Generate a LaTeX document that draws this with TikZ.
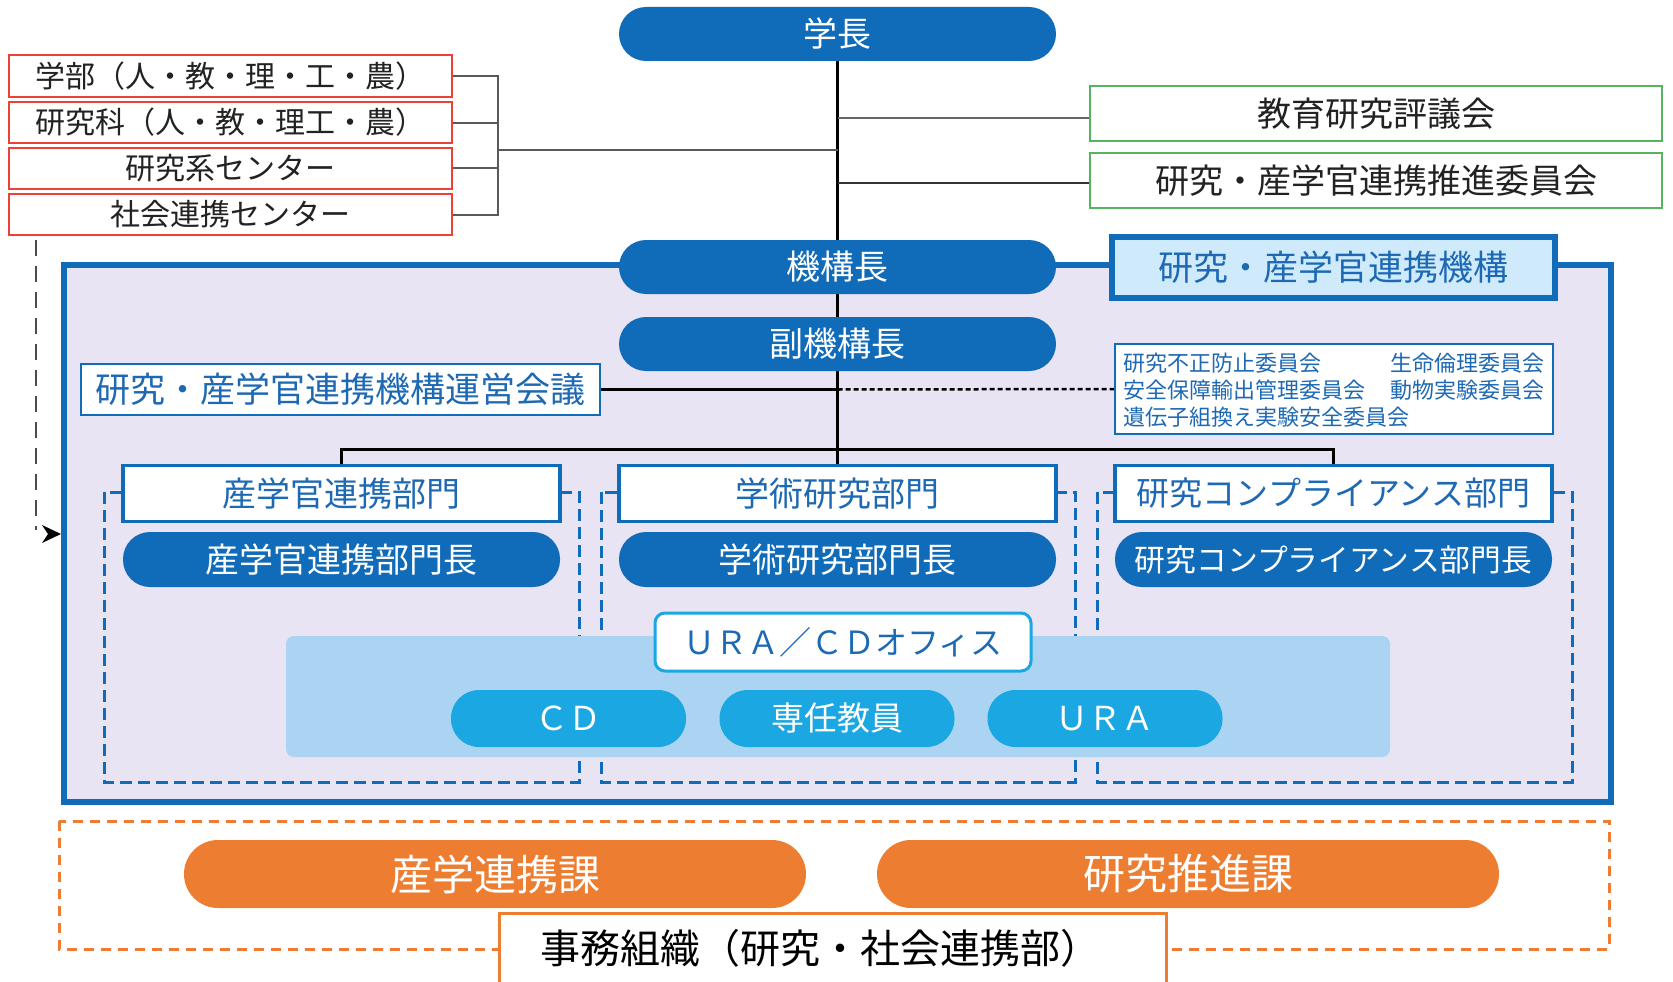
\documentclass[tikz,border=0pt]{standalone}
\usepackage{fontspec}
\setmainfont{Noto Sans CJK JP}
\usetikzlibrary{arrows.meta}
\definecolor{mblue}{RGB}{16,107,185}
\definecolor{lav}{RGB}{233,228,243}
\definecolor{lblue}{RGB}{170,212,242}
\definecolor{cyanb}{RGB}{27,167,226}
\definecolor{boxblue}{RGB}{206,234,251}
\definecolor{tblue}{RGB}{30,105,180}
\definecolor{redb}{RGB}{235,65,55}
\definecolor{greenb}{RGB}{85,180,95}
\definecolor{orng}{RGB}{237,125,49}
\definecolor{txt}{RGB}{34,34,34}
\newcommand\myfs[1]{\fontsize{#1}{#1}\selectfont}
\pgfdeclarelayer{bgzero}
\pgfdeclarelayer{bgone}
\pgfsetlayers{bgzero,bgone,main}
\tikzset{
  pill/.style={fill=mblue, text=white, rounded corners=27pt, minimum width=437pt, minimum height=54pt, inner sep=0pt, font=\myfs{34}},
  cpill/.style={fill=cyanb, text=white, rounded corners=28pt, minimum width=235pt, minimum height=57pt, inner sep=0pt, font=\myfs{33}},
  opill/.style={fill=orng, text=white, rounded corners=34pt, minimum width=622pt, minimum height=68pt, inner sep=0pt, font=\myfs{42}},
  redbox/.style={draw=redb, line width=2pt, fill=white, text=txt, minimum width=443pt, minimum height=41pt, inner sep=0pt, font=\myfs{30}},
  greenbox/.style={draw=greenb, line width=2pt, fill=white, text=txt, minimum width=572pt, minimum height=55pt, inner sep=0pt, font=\myfs{34}},
  deptbox/.style={draw=mblue, line width=3.5pt, fill=white, text=tblue, minimum width=437pt, minimum height=56pt, inner sep=0pt, font=\myfs{34}},
  thinbox/.style={draw=mblue, line width=1.8pt, fill=white, text=tblue, inner sep=0pt},
  comtext/.style={text=tblue, font=\myfs{22}, inner sep=0pt, anchor=west},
  conn/.style={line width=3.5pt, black},
  thinconn/.style={line width=2pt, black!80},
  brk/.style={line width=2pt, black!65},
  bluedash/.style={draw=mblue, line width=3pt, dash pattern=on 12pt off 6pt},
}
\begin{document}
\begin{tikzpicture}[x=1pt,y=-1pt]
\useasboundingbox (0,0) rectangle (1673,982);
\clip (0,0) rectangle (1673,982);
% ---- nodes ----
\node[pill] (gak) at (837.5,34) {学長};
\node[pill] (kik) at (837.5,267) {機構長};
\node[pill] (fuk) at (837.5,344) {副機構長};
\node[redbox] (r1) at (230.5,76) {学部（人・教・理・工・農）};
\node[redbox] (r2) at (230.5,122.5) {研究科（人・教・理工・農）};
\node[redbox] (r3) at (230.5,168) {研究系センター};
\node[redbox] (r4) at (230.5,214.5) {社会連携センター};
\node[greenbox] (g1) at (1376,113.5) {教育研究評議会};
\node[greenbox] (g2) at (1376,180.5) {研究・産学官連携推進委員会};
\node[draw=mblue, line width=6pt, fill=boxblue, text=tblue, minimum width=443pt, minimum height=61pt, inner sep=0pt, font=\myfs{35}] (kbox) at (1333.5,267.5) {研究・産学官連携機構};
\node[thinbox, minimum width=519pt, minimum height=51pt, font=\myfs{35}] (unei) at (340.5,389.5) {研究・産学官連携機構運営会議};
\node[thinbox, minimum width=438pt, minimum height=90pt] (com) at (1334,389) {};
\node[comtext] (c1) at (1123,363) {研究不正防止委員会};
\node[comtext] (c2) at (1123,390.5) {安全保障輸出管理委員会};
\node[comtext] (c3) at (1123,417) {遺伝子組換え実験安全委員会};
\node[comtext] (c4) at (1390,363) {生命倫理委員会};
\node[comtext] (c5) at (1390,390.5) {動物実験委員会};
\node[deptbox] (d1) at (341.5,493.5) {産学官連携部門};
\node[deptbox] (d2) at (837.5,493.5) {学術研究部門};
\node[deptbox, font=\myfs{33}] (d3) at (1333.5,493.5) {研究コンプライアンス部門};
\node[pill, minimum height=55pt] (h1) at (341.5,559.5) {産学官連携部門長};
\node[pill, minimum height=55pt] (h2) at (837.5,559.5) {学術研究部門長};
\node[pill, minimum height=55pt, font=\myfs{30.8}] (h3) at (1333.5,559.5) {研究コンプライアンス部門長};
\node[draw=cyanb, line width=3pt, fill=white, text=tblue, rounded corners=10pt, minimum width=376pt, minimum height=58pt, inner sep=0pt, font=\myfs{32}] (off) at (843,642) {ＵＲＡ／ＣＤオフィス};
\node[cpill] (p1) at (568.5,718.5) {ＣＤ};
\node[cpill] (p2) at (837,718.5) {専任教員};
\node[cpill] (p3) at (1105,718.5) {ＵＲＡ};
\node[opill] (o1) at (495,874) {産学連携課};
\node[opill] (o2) at (1188,874) {研究推進課};
\node[draw=orng, line width=3pt, fill=white, minimum width=667pt, minimum height=90pt, inner sep=0pt] (jim) at (832.5,958) {};
\node[text=black, font=\myfs{40}, inner sep=0pt] (jimt) at (820,948) {事務組織（研究・社会連携部）};
% ---- background ----
\begin{pgfonlayer}{bgzero}
\draw[line width=6.5pt, mblue, fill=lav] (64,265) rectangle (1611,802);
\draw[bluedash] (104,492) rectangle (579,782);
\draw[bluedash] (601,492) rectangle (1075,782);
\draw[bluedash] (1097,492) rectangle (1572,782);
\fill[lblue, rounded corners=8pt] (286,636) rectangle (1390,757);
\draw[orng, line width=3pt, dash pattern=on 10pt off 7pt] (59,821) rectangle (1609,949);
\end{pgfonlayer}
% ---- connectors ----
\begin{pgfonlayer}{bgone}
\draw[conn] (gak.south) -- (kik.north);
\draw[conn] (kik.south) -- (fuk.north);
\draw[conn] (fuk.south) -- (d2.north);
\coordinate (hj) at (837.5,449);
\draw[conn, line width=3pt] (d1.north) |- (hj) -| (d3.north);
\draw[thinconn, black!60] (gak.south |- 0,118) -- (g1.west |- 0,118);
\draw[thinconn] (gak.south |- 0,183) -- (g2.west |- 0,183);
\coordinate (brx) at (498,150);
\draw[brk] (r1.east) -- (r1.east -| brx) -- (r4.east -| brx) -- (r4.east);
\draw[brk] (r2.east) -- (r2.east -| brx);
\draw[brk] (r3.east) -- (r3.east -| brx);
\draw[brk] (brx) -- (brx -| gak.south);
\draw[conn, line width=2.5pt] (unei.east) -- (unei.east -| fuk.south);
\draw[black, line width=2.5pt, dash pattern=on 5pt off 3pt] (unei.east -| fuk.south) -- (com.west);
\coordinate (ds) at (36,240);
\coordinate (dk) at (36,530);
\coordinate (ak) at (42,534);
\coordinate (fl) at (61,534);
\draw[black!70, line width=2pt, dash pattern=on 16pt off 10pt] (ds) -- (dk);
\fill[black] (fl) -- (ak |- 0,525) -- (48,534) -- (ak |- 0,543) -- cycle;
\end{pgfonlayer}
\end{tikzpicture}
\end{document}
